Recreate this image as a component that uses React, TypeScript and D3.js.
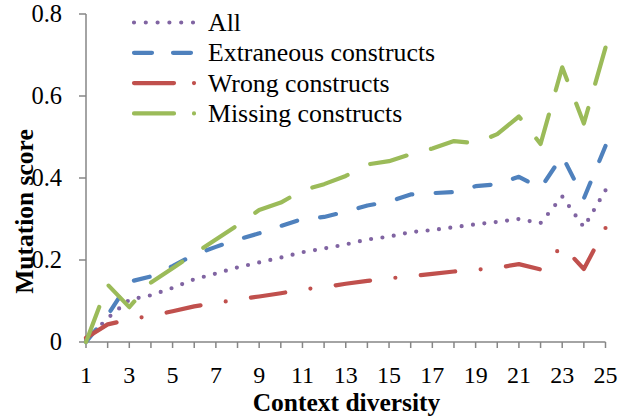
import React from "react";
import * as d3 from "d3";

const diversity = d3.range(1, 26);
const xTickLabels = [1, 3, 5, 7, 9, 11, 13, 15, 17, 19, 21, 23, 25];
const yTicks = [0, 0.2, 0.4, 0.6, 0.8];

const allScores = [0.005, 0.058, 0.103, 0.114, 0.132, 0.153, 0.167, 0.182, 0.194, 0.206, 0.219, 0.228, 0.238, 0.25, 0.257, 0.268, 0.273, 0.28, 0.287, 0.293, 0.3, 0.29, 0.355, 0.28, 0.37];
const extraneousScores = [0.0, 0.065, 0.147, 0.16, 0.185, 0.213, 0.232, 0.25, 0.265, 0.283, 0.3, 0.305, 0.318, 0.333, 0.342, 0.36, 0.363, 0.366, 0.38, 0.385, 0.403, 0.375, 0.454, 0.35, 0.478];
const wrongScores = [0.01, 0.043, 0.055, 0.064, 0.075, 0.087, 0.095, 0.104, 0.111, 0.119, 0.128, 0.134, 0.142, 0.149, 0.155, 0.161, 0.166, 0.172, 0.176, 0.181, 0.19, 0.177, 0.235, 0.178, 0.278];
const missingScores = [0.0, 0.14, 0.085, 0.145, 0.18, 0.215, 0.25, 0.285, 0.322, 0.34, 0.37, 0.385, 0.405, 0.433, 0.441, 0.458, 0.472, 0.49, 0.485, 0.507, 0.55, 0.483, 0.67, 0.533, 0.718];

const seriesNames = ["All", "Extraneous constructs", "Wrong constructs", "Missing constructs"];
const seriesColors = ["#8064A2", "#4F81BD", "#C0504D", "#9BBB59"];
// dash pattern and the pattern phase at which each line ends
const plotDash = [[0, 11.5], [16, 23], [34, 25, 0, 25], [37, 25]];
const endPhase = [0, 16, 59, 37];
const legendDash = ["0 11.8", "18 21", "40 20 0 20", "40 20 0 20"];
const seriesValues = [allScores, extraneousScores, wrongScores, missingScores];

const W = 619;
const H = 417;
const FONT = '"Liberation Serif", "Times New Roman", serif';
const txt = { fontFamily: FONT };

function fitDash(pattern: number[], length: number, endAt: number): string {
  const period = pattern.reduce((a, b) => a + b, 0);
  const n = Math.max(1, Math.round((length - endAt) / period));
  const k = length / (n * period + endAt);
  return pattern.map((v) => (v * k).toFixed(3)).join(" ");
}

export default function App() {
  const x = d3.scaleLinear().domain([1, 25]).range([86, 605.5]);
  const y = d3.scaleLinear().domain([0, 0.8]).range([342, 14]);
  const line = d3
    .line<number>()
    .x((_, i) => x(diversity[i]))
    .y((d) => y(d));
  const axisColor = "#868686";

  const pathLength = (vals: number[]) => {
    let L = 0;
    for (let i = 1; i < vals.length; i++) {
      L += Math.hypot(x(diversity[i]) - x(diversity[i - 1]), y(vals[i]) - y(vals[i - 1]));
    }
    return L;
  };

  return (
    <svg
      width={W}
      height={H}
      viewBox={`0 0 ${W} ${H}`}
      style={{ position: "absolute", left: 0, top: 0, background: "#fff", fontFamily: FONT }}
    >
      <rect x={0} y={0} width={W} height={H} fill="#fff" />
      {/* y axis */}
      <line x1={x(1)} x2={x(1)} y1={y(0.8)} y2={y(0)} stroke={axisColor} strokeWidth={1.5} />
      {yTicks.map((t) => (
        <g key={`yt${t}`}>
          <line x1={x(1) - 7} x2={x(1)} y1={y(t)} y2={y(t)} stroke={axisColor} strokeWidth={1.5} />
          <text x={62} y={y(t) + 8} textAnchor="end" fontSize={24.5} fill="#000" style={txt}>
            {t === 0 ? "0" : t.toFixed(1)}
          </text>
        </g>
      ))}
      {/* x axis */}
      <line x1={x(1)} x2={x(25)} y1={y(0)} y2={y(0)} stroke={axisColor} strokeWidth={1.5} />
      {diversity.map((d) => (
        <line key={`xt${d}`} x1={x(d)} x2={x(d)} y1={y(0)} y2={y(0) + 6} stroke={axisColor} strokeWidth={1.5} />
      ))}
      {xTickLabels.map((d) => (
        <text key={`xl${d}`} x={x(d)} y={383} textAnchor="middle" fontSize={24} fill="#000" style={txt}>
          {d}
        </text>
      ))}
      {/* axis titles */}
      <text x={346.5} y={410.5} textAnchor="middle" fontSize={25.5} fontWeight="bold" fill="#000" style={txt}>
        Context diversity
      </text>
      <text
        transform={`translate(33,211.5) rotate(-90)`}
        textAnchor="middle"
        fontSize={25.5}
        fontWeight="bold"
        fill="#000"
        style={txt}
      >
        Mutation score
      </text>
      {/* series */}
      {seriesValues.map((vals, i) => (
        <path
          key={`s${i}`}
          d={line(vals) || ""}
          fill="none"
          stroke={seriesColors[i]}
          strokeWidth={4.2}
          strokeDasharray={fitDash(plotDash[i], pathLength(vals), endPhase[i])}
          strokeLinecap="round"
          strokeLinejoin="round"
        />
      ))}
      {/* legend */}
      {seriesNames.map((name, i) => {
        const cy = 22.5 + i * 30.3;
        return (
          <g key={`lg${i}`}>
            <line
              x1={134}
              x2={i === 1 ? 192 : 198}
              y1={cy}
              y2={cy}
              stroke={seriesColors[i]}
              strokeWidth={4.2}
              strokeDasharray={legendDash[i]}
              strokeLinecap="round"
            />
            <text x={208} y={cy + 8.5} fontSize={25.8} fill="#000" style={txt}>
              {name}
            </text>
          </g>
        );
      })}
    </svg>
  );
}
